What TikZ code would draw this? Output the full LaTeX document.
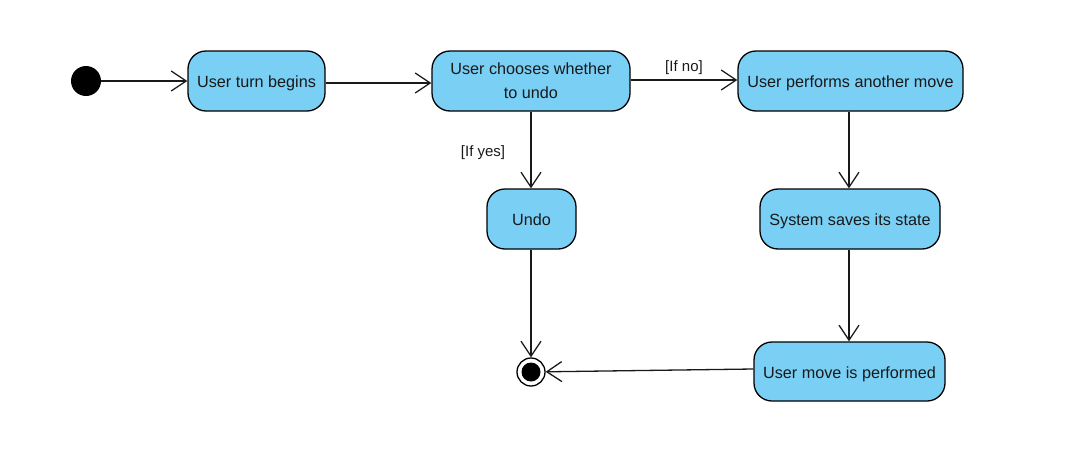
\documentclass[tikz,border=0pt]{standalone}
\usepackage{fontspec}
\setmainfont{Liberation Sans}
\usetikzlibrary{arrows.meta}
\definecolor{actfill}{RGB}{122,207,245}
\begin{document}
\begin{tikzpicture}[x=1pt,y=-1pt,
  act/.style={draw=black, line width=1.3pt, fill=actfill, rounded corners=18pt,
    inner sep=0pt, align=center, font=\fontsize{16.2}{24}\selectfont, text=black!90},
  one/.style={text height=16pt, text depth=3pt},
  flow/.style={draw=black!90, line width=1.3pt, -{Straight Barb[length=15pt,width=20pt,line width=1.3pt]}},
  guard/.style={font=\fontsize{15}{18}\selectfont, text=black!90, inner sep=0pt}
]
\useasboundingbox (0,0) rectangle (1077,453);
\node[circle, fill=black, minimum size=30pt, inner sep=0pt] (start) at (86,81) {};
\node[act, one, minimum width=137pt, minimum height=60pt] (b1) at (256.5,81) {User turn begins};
\node[act, minimum width=198pt, minimum height=60pt] (b2) at (531,81) {User chooses whether\\to undo};
\node[act, one, minimum width=225pt, minimum height=60pt] (b3) at (850.5,81) {User performs another move};
\node[act, one, minimum width=89pt, minimum height=60pt] (undo) at (531.5,219) {Undo};
\node[act, one, minimum width=180pt, minimum height=60pt] (sys) at (850,219) {System saves its state};
\node[act, one, minimum width=191pt, minimum height=59pt] (move) at (849.5,371.5) {User move is performed};
\node[circle, draw=black, line width=1.3pt, fill=white, minimum size=28pt, inner sep=0pt] (fin) at (531,372) {};
\fill[black] (fin.center) circle (9.5pt);
\draw[flow] (start) -- (b1);
\draw[flow] (b1.east |- 0,83) -- (b2.west |- 0,83);
\draw[flow] (b2.east |- 0,80) -- (b3.west |- 0,80) node[guard, midway, above=5pt] {[If no]};
\draw[flow] (b2.south -| 531,0) -- (undo.north -| 531,0);
\node[guard] (gyes) at (483,153) {[If yes]};
\draw[flow] (b3.south -| 849,0) -- (sys.north -| 849,0);
\draw[flow] (sys.south -| 849,0) -- (move.north -| 849,0);
\draw[flow] (undo.south -| 531,0) -- (fin);
\draw[flow] (move.west |- 0,369) -- (fin);
\end{tikzpicture}
\end{document}
